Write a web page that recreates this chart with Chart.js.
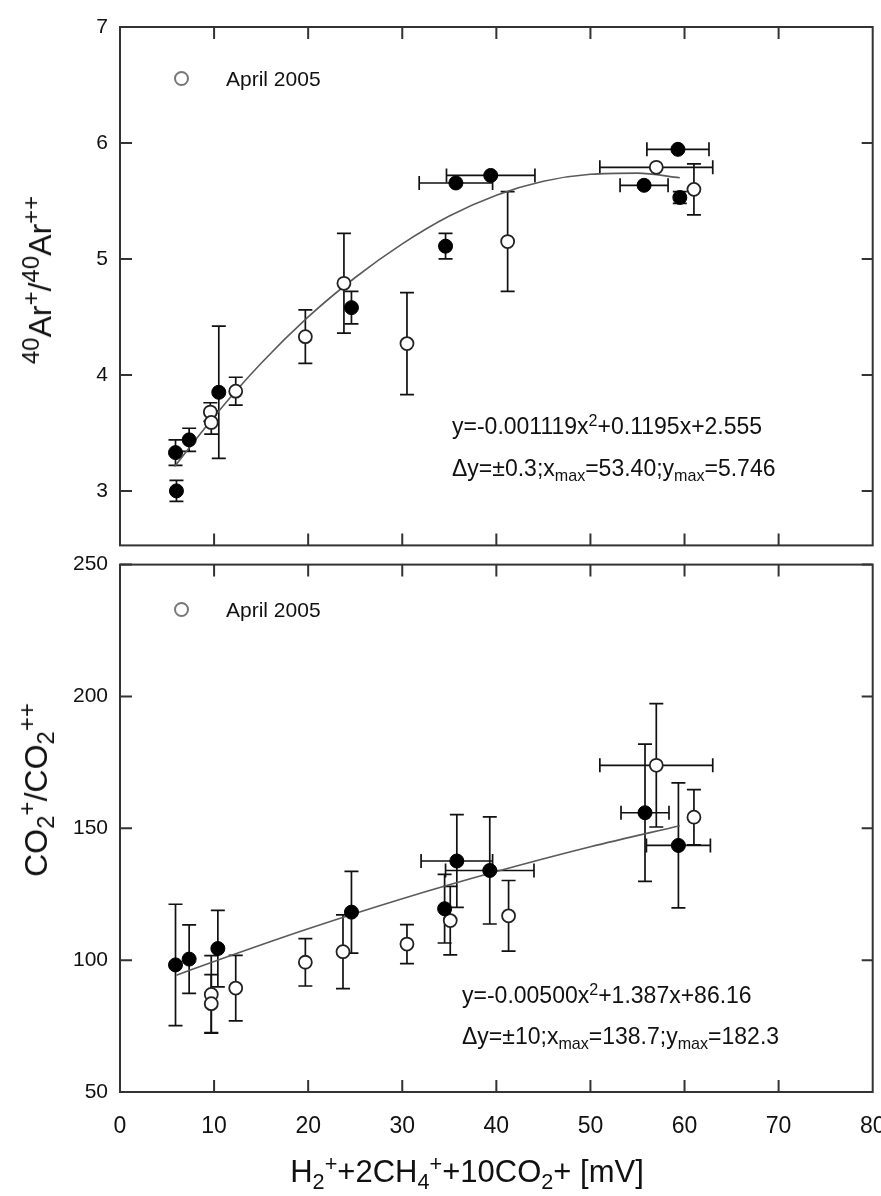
<!DOCTYPE html>
<html>
<head>
<meta charset="utf-8">
<script src="https://cdn.jsdelivr.net/npm/chart.js@4.4.0/dist/chart.umd.min.js"></script>
<style>
  body { margin: 0; background: #fff; }
  #wrap { position: relative; width: 881px; height: 1196px; font-family: "Liberation Sans", Arial, sans-serif; color: #111; }
  canvas { position: absolute; left: 0; }
  .txt { position: absolute; white-space: nowrap; line-height: 1; }
  .txt sup { font-size: 0.7em; line-height: 0; vertical-align: 0.5em; }
  .txt sub { font-size: 0.7em; line-height: 0; vertical-align: -0.3em; }
  .eq { font-size: 23px; }
  .legend { font-size: 21px; }
  .dot { position: absolute; width: 11px; height: 11px; border: 2px solid #777; border-radius: 50%; background: #fff; }
  .ytitle { font-size: 32px; transform: translate(-50%, -50%) rotate(-90deg); }
  .ytitle sup, .ytitle sub { font-size: 0.75em; }
  .xtitle { font-size: 31px; transform: translateX(-50%); }
</style>
</head>
<body>
<div id="wrap">
  <canvas id="topChart" width="881" height="570" style="top:0"></canvas>
  <canvas id="bottomChart" width="881" height="656" style="top:540px"></canvas>

  <span class="dot" style="left:174px; top:71px"></span>
  <div class="txt legend" style="left:226px; top:68px">April 2005</div>
  <span class="dot" style="left:174px; top:602px"></span>
  <div class="txt legend" style="left:226px; top:599px">April 2005</div>

  <div class="txt eq" style="left:452px; top:415px">y=-0.001119x<sup>2</sup>+0.1195x+2.555</div>
  <div class="txt eq" style="left:452px; top:457px">Δy=±0.3;x<sub>max</sub>=53.40;y<sub>max</sub>=5.746</div>
  <div class="txt eq" style="left:462px; top:984px">y=-0.00500x<sup>2</sup>+1.387x+86.16</div>
  <div class="txt eq" style="left:462px; top:1025px">Δy=±10;x<sub>max</sub>=138.7;y<sub>max</sub>=182.3</div>

  <div class="txt ytitle" style="left:40px; top:280px"><sup>40</sup>Ar<sup>+</sup>/<sup>40</sup>Ar<sup>++</sup></div>
  <div class="txt ytitle" style="left:36px; top:790px">CO<sub>2</sub><sup>+</sup>/CO<sub>2</sub><sup>++</sup></div>
  <div class="txt xtitle" style="left:467px; top:1156px">H<sub>2</sub><sup>+</sup>+2CH<sub>4</sub><sup>+</sup>+10CO<sub>2</sub>+ [mV]</div>
</div>

<script>
// ---------------- data ----------------
const xTicks = [0, 10, 20, 30, 40, 50, 60, 70, 80];
const arTicks = [3, 4, 5, 6, 7];
const co2Ticks = [50, 100, 150, 200, 250];

// 40Ar+/40Ar++ , filled points
const arFillX    = [6.0, 5.9, 7.35, 10.5, 24.6, 35.7, 39.4, 34.6, 59.3, 55.7, 59.5];
const arFillY    = [3.00, 3.33, 3.44, 3.85, 4.58, 5.655, 5.72, 5.11, 5.945, 5.635, 5.53];
const arFillXErr = [0, 0, 0, 0, 0, 3.9, 4.7, 0, 3.3, 2.55, 0];
const arFillYErr = [0.09, 0.11, 0.10, 0.57, 0.14, 0, 0, 0.11, 0, 0, 0.05];
// 40Ar+/40Ar++ , open points (April 2005)
const arOpenX    = [9.6, 9.7, 12.3, 19.7, 23.8, 30.5, 41.2, 57.0, 61.0];
const arOpenY    = [3.68, 3.59, 3.86, 4.33, 4.79, 4.27, 5.15, 5.79, 5.60];
const arOpenXErr = [0, 0, 0, 0, 0, 0, 0, 6.0, 0];
const arOpenYErr = [0.08, 0.10, 0.12, 0.23, 0.43, 0.44, 0.43, 0, 0.22];
// fitted curve
const arFitX = [5.8, 10, 15, 20, 25, 30, 35, 40, 45, 50, 55, 59.5];
const arFitY = [3.21, 3.64, 4.10, 4.50, 4.84, 5.13, 5.37, 5.55, 5.67, 5.73, 5.74, 5.70];

// CO2+/CO2++ , filled points
const coFillX    = [5.9, 7.35, 10.4, 24.6, 34.5, 35.8, 39.3, 55.8, 59.35];
const coFillY    = [98.2, 100.4, 104.4, 118.2, 119.5, 137.6, 134.0, 155.9, 143.5];
const coFillXErr = [0, 0, 0, 0, 0, 3.8, 4.7, 2.55, 3.4];
const coFillYErr = [23, 13, 14.5, 15.5, 13, 17.6, 20.3, 26, 23.7];
// CO2+/CO2++ , open points (April 2005)
const coOpenX    = [9.7, 9.7, 12.3, 19.7, 23.7, 30.5, 35.1, 41.3, 57.0, 61.0];
const coOpenY    = [87.0, 83.5, 89.4, 99.2, 103.2, 106.1, 115.0, 116.8, 173.9, 154.2];
const coOpenXErr = [0, 0, 0, 0, 0, 0, 0, 0, 6.0, 0];
const coOpenYErr = [14.7, 11, 12.4, 9, 14, 7.4, 13, 13.4, 23.4, 10.5];
// fitted curve
const coFitX = [6, 10, 20, 30, 40, 50, 59.5];
const coFitY = [94.3, 99.5, 111.9, 123.3, 133.6, 143.0, 151.0];

const pts = (xs, ys) => xs.map((x, i) => ({ x: x, y: ys[i] }));

// ---------------- plugins ----------------
const errorBars = {
  id: "errorBars",
  beforeDatasetsDraw(chart) {
    const { ctx, scales: { x, y } } = chart;
    const cap = 7;
    ctx.save();
    ctx.strokeStyle = "#111";
    ctx.lineWidth = 1.7;
    chart.data.datasets.forEach(ds => {
      if (!ds.errX) return;
      ds.data.forEach((p, i) => {
        const px = x.getPixelForValue(p.x);
        const py = y.getPixelForValue(p.y);
        const ey = ds.errY[i], ex = ds.errX[i];
        ctx.beginPath();
        if (ey) {
          const y1 = y.getPixelForValue(p.y + ey), y2 = y.getPixelForValue(p.y - ey);
          ctx.moveTo(px, y1); ctx.lineTo(px, y2);
          ctx.moveTo(px - cap, y1); ctx.lineTo(px + cap, y1);
          ctx.moveTo(px - cap, y2); ctx.lineTo(px + cap, y2);
        }
        if (ex) {
          const x1 = x.getPixelForValue(p.x - ex), x2 = x.getPixelForValue(p.x + ex);
          ctx.moveTo(x1, py); ctx.lineTo(x2, py);
          ctx.moveTo(x1, py - cap); ctx.lineTo(x1, py + cap);
          ctx.moveTo(x2, py - cap); ctx.lineTo(x2, py + cap);
        }
        ctx.stroke();
      });
    });
    ctx.restore();
  }
};

const frame = {
  id: "frame",
  afterDraw(chart) {
    const { ctx, chartArea: a, scales: { x, y } } = chart;
    ctx.save();
    ctx.strokeStyle = "#333";
    ctx.lineWidth = 2;
    ctx.strokeRect(a.left, a.top, a.right - a.left, a.bottom - a.top);
    ctx.beginPath();
    x.ticks.forEach(t => {
      if (t.value <= x.min || t.value >= x.max) return;
      const px = x.getPixelForValue(t.value);
      ctx.moveTo(px, a.top); ctx.lineTo(px, a.top + 12);
      ctx.moveTo(px, a.bottom); ctx.lineTo(px, a.bottom - 12);
    });
    y.ticks.forEach(t => {
      const py = y.getPixelForValue(t.value);
      ctx.moveTo(a.left, py); ctx.lineTo(a.left + 12, py);
      ctx.moveTo(a.right, py); ctx.lineTo(a.right - 11, py);
    });
    ctx.stroke();
    ctx.restore();
  }
};

// ---------------- charts ----------------
Chart.defaults.font.family = "'Liberation Sans', Arial, sans-serif";
Chart.defaults.color = "#111";

function makePanel(canvasId, o) {
  return new Chart(document.getElementById(canvasId), {
    type: "scatter",
    data: {
      datasets: [
        {
          data: pts(o.fitX, o.fitY), showLine: true, pointRadius: 0,
          borderColor: "#5a5a5a", borderWidth: 1.6, cubicInterpolationMode: "monotone", order: 3
        },
        {
          data: pts(o.openX, o.openY), errX: o.openXErr, errY: o.openYErr,
          pointRadius: 6.5, borderWidth: 1.8, borderColor: "#222", backgroundColor: "#fff", order: 2
        },
        {
          data: pts(o.fillX, o.fillY), errX: o.fillXErr, errY: o.fillYErr,
          pointRadius: 7, borderWidth: 1, borderColor: "#000", backgroundColor: "#000", order: 1
        }
      ]
    },
    options: {
      responsive: false,
      animation: false,
      layout: { padding: { top: o.padTop, right: 7, left: 0, bottom: 0 } },
      plugins: { legend: { display: false }, tooltip: { enabled: false } },
      scales: {
        x: {
          type: "linear", min: 0, max: 80,
          grid: { display: false, drawTicks: false }, border: { display: false },
          afterBuildTicks: s => { s.ticks = xTicks.map(v => ({ value: v })); },
          ticks: { display: o.showX, padding: 21, font: { size: 23 }, color: "#111" },
          afterFit: s => { s.height = o.xHeight; s.paddingLeft = 0; s.paddingRight = 0; }
        },
        y: {
          type: "linear", min: o.yMin, max: o.yMax,
          grid: { display: false, drawTicks: false }, border: { display: false },
          afterBuildTicks: s => { s.ticks = o.yTicks.map(v => ({ value: v })); },
          ticks: { padding: 12, font: { size: 21 }, color: "#111" },
          afterFit: s => { s.width = 120; }
        }
      }
    },
    plugins: [errorBars, frame]
  });
}

makePanel("topChart", {
  fitX: arFitX, fitY: arFitY,
  openX: arOpenX, openY: arOpenY, openXErr: arOpenXErr, openYErr: arOpenYErr,
  fillX: arFillX, fillY: arFillY, fillXErr: arFillXErr, fillYErr: arFillYErr,
  yMin: 2.53, yMax: 7, yTicks: arTicks, padTop: 27, xHeight: 12, showX: false
});

makePanel("bottomChart", {
  fitX: coFitX, fitY: coFitY,
  openX: coOpenX, openY: coOpenY, openXErr: coOpenXErr, openYErr: coOpenYErr,
  fillX: coFillX, fillY: coFillY, fillXErr: coFillXErr, fillYErr: coFillYErr,
  yMin: 50, yMax: 250, yTicks: co2Ticks, padTop: 18, xHeight: 104, showX: true
});
</script>
</body>
</html>
